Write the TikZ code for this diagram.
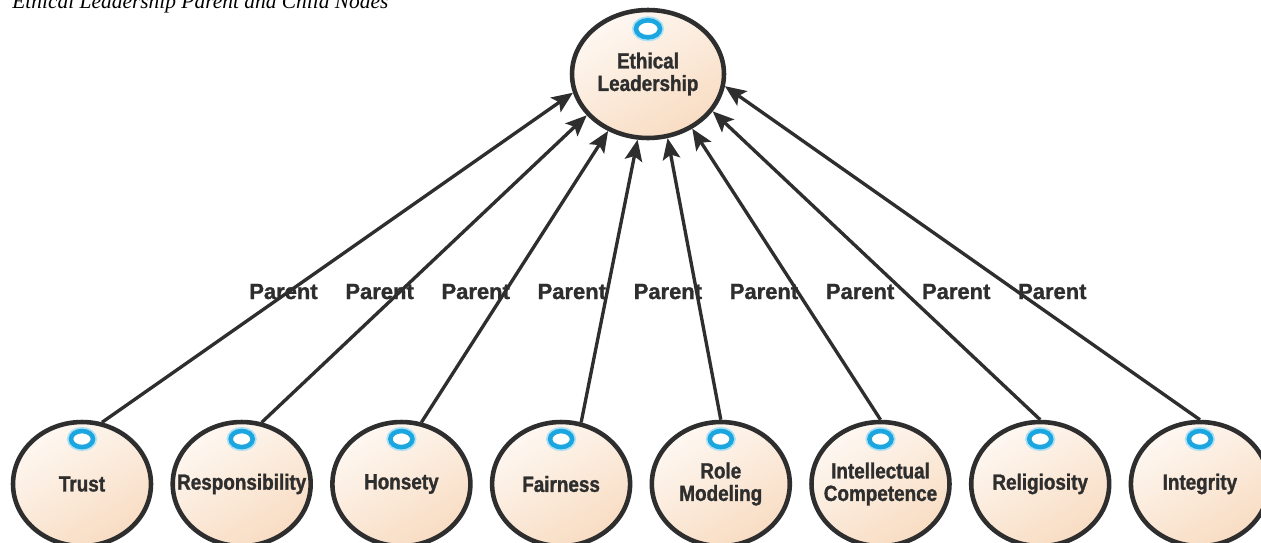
\documentclass[tikz,border=0pt]{standalone}
\usepackage{fontspec}
\setmainfont{Liberation Serif}
\newfontfamily\nodefont[FakeStretch=0.86,FakeBold=1.3]{Liberation Sans}
\newfontfamily\tagfont[FakeBold=1.3]{Liberation Sans}
\usetikzlibrary{arrows.meta,shapes.geometric}
\definecolor{ink}{HTML}{2E2E2E}
\definecolor{peachlight}{HTML}{FEF8F2}
\definecolor{peachdark}{HTML}{F8DCC2}
\definecolor{marker}{HTML}{1CA6E0}

\begin{document}
\begin{tikzpicture}[x=0.02cm, y=-0.02cm,
    concept/.style={ellipse, draw=ink, line width=2.6pt,
        top color=peachlight, bottom color=peachdark, shading angle=30,
        minimum width=2.76cm, minimum height=2.48cm, inner sep=0pt},
    caption/.style={align=center, text=ink, inner sep=0pt,
        font=\nodefont\bfseries\fontsize{12.5}{12.8}\selectfont},
    dot/.style={ellipse, fill=white, draw=marker, line width=2.6pt,
        preaction={draw=marker!35, line width=4.6pt},
        minimum width=0.44cm, minimum height=0.32cm, inner sep=0pt},
    link/.style={draw=ink, line width=1.9pt, -{Stealth[length=12pt,width=10pt,inset=2.5pt]}},
    tag/.style={text=ink, font=\tagfont\bfseries\fontsize{12.5}{14}\selectfont, anchor=base}]
    \useasboundingbox (0,0) rectangle (1261,542);
    \fill[white] (0,0) rectangle (1261,542);
    \clip (0,0) rectangle (1261,542);

    \node[anchor=base west, inner sep=0pt, font=\itshape\fontsize{12.2}{14}\selectfont] (title) at (12,8)
        {Ethical Leadership Parent and Child Nodes};

    % parent
    \node[concept, minimum width=3.04cm, minimum height=2.56cm,
        label={[caption]center:{Ethical\\Leadership}}] (leader) at (648,74) {};
    \node[dot, minimum width=0.48cm, minimum height=0.34cm] at ([yshift=-12pt]leader.north) {};

    % children
    \foreach \name/\txt [count=\i from 0] in {trust/Trust, resp/Responsibility, hons/Honsety,
            fair/Fairness, role/{Role\\Modeling}, intel/{Intellectual\\Competence},
            relig/Religiosity, integ/Integrity}{
        \node[concept, label={[caption]center:{\txt}}] (\name) at ({82+159.7*\i},484) {};
        \node[dot] at ([yshift=-11pt]\name.north) {};
    }

    \foreach \name/\from/\to in {trust/72/194, resp/72/214, hons/72/235, fair/72/261,
            role/90/287, intel/90/309, relig/90/330, integ/90/351}
        \draw[link] (\name.\from) -- (leader.\to);

    \foreach \i in {0,...,8}
        \node[tag] (tag\i) at ({283.5+96.1*\i},299) {Parent};
\end{tikzpicture}
\end{document}
